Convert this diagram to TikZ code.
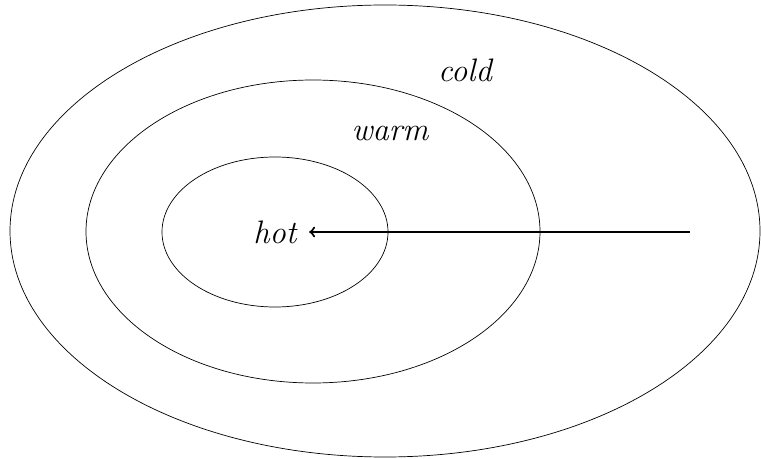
\documentclass[tikz,border=0pt]{standalone}
\usepackage{tikz}

\begin{document}
\begin{tikzpicture}[x=0.02cm, y=-0.02cm,
    zone/.style={draw, thin},
    zonelabel/.style={font=\fontsize{18.5}{22}\selectfont\itshape, inner sep=0pt}]

\useasboundingbox (0,0) rectangle (761,459);

% Зоны (эллипсы)
\draw[zone] (385,231) ellipse (375 and 226);
\draw[zone] (313,231.5) ellipse (227 and 151.5);
\draw[zone] (275,232) ellipse (113 and 75);

% Подписи
\node[zonelabel] (hot) at (275,232) {hot};
\node[zonelabel] (warm) at (390,133) {warm};
\node[zonelabel] (cold) at (465,70) {cold};

% Стрелка
\coordinate (start) at (690,232);
\draw[line width=1.2pt, -to, shorten >=7pt] (start) -- (hot);
\end{tikzpicture}
\end{document}
